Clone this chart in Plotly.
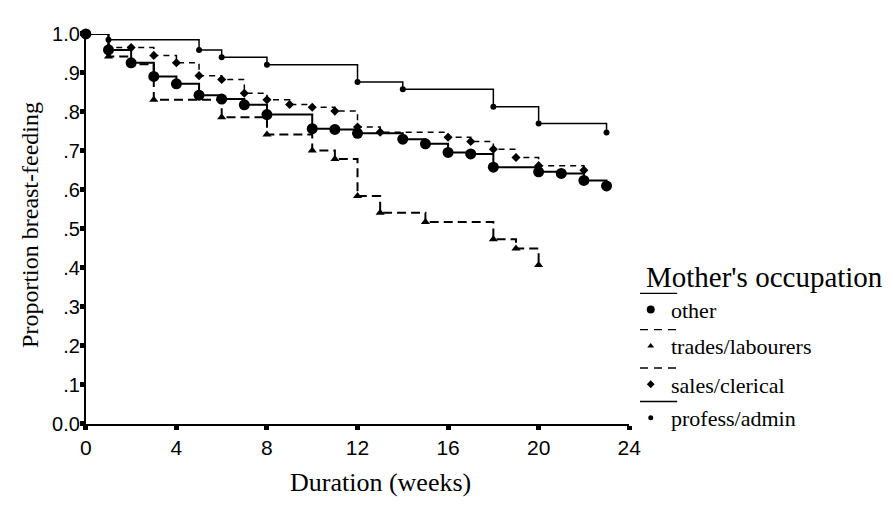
import plotly.graph_objects as go

# Kaplan-Meier style survival estimates: proportion still breast-feeding by week
weeks_other = [0, 1, 2, 3, 4, 5, 6, 7, 8, 10, 11, 12, 14, 15, 16, 17, 18, 20, 21, 22, 23]
prop_other = [1.0, 0.959, 0.926, 0.891, 0.872, 0.843, 0.833, 0.818, 0.793, 0.757, 0.755,
              0.745, 0.730, 0.718, 0.696, 0.692, 0.658, 0.646, 0.642, 0.624, 0.610]

weeks_trades = [0, 1, 2, 3, 6, 8, 10, 11, 12, 13, 15, 18, 19, 20]
prop_trades = [1.0, 0.942, 0.922, 0.831, 0.786, 0.742, 0.701, 0.679, 0.584, 0.541,
               0.517, 0.473, 0.449, 0.407]

weeks_sales = [0, 1, 2, 3, 4, 5, 6, 7, 8, 9, 10, 11, 12, 13, 16, 17, 18, 19, 20, 22]
prop_sales = [1.0, 0.965, 0.965, 0.945, 0.926, 0.893, 0.883, 0.848, 0.831, 0.819, 0.812,
              0.802, 0.761, 0.748, 0.735, 0.724, 0.704, 0.683, 0.662, 0.650]

weeks_profess = [0, 1, 5, 6, 8, 12, 14, 18, 20, 23]
prop_profess = [1.0, 0.985, 0.959, 0.940, 0.921, 0.877, 0.858, 0.813, 0.770, 0.747]

group_names = ["other", "trades/labourers", "sales/clerical", "profess/admin"]

x_ticks = [0, 4, 8, 12, 16, 20, 24]
y_ticks = [0.0, 0.1, 0.2, 0.3, 0.4, 0.5, 0.6, 0.7, 0.8, 0.9, 1.0]
y_tick_text = ["0.0", ".1", ".2", ".3", ".4", ".5", ".6", ".7", ".8", ".9", "1.0"]

W, H = 893, 513
SERIF = "Liberation Serif, Times New Roman, serif"
SANS = "Liberation Sans, Arial, sans-serif"

# per-group drawing style: (line width, dash, marker symbol, marker size, legend marker size)
styles = {
    "other": (2.0, "solid", "circle", 11, 8),
    "trades/labourers": (2.0, "9px,5px", "triangle-up", 8, 6),
    "sales/clerical": (1.5, "6px,5px", "diamond", 7, 6),
    "profess/admin": (1.5, "solid", "circle", 6, 5),
}

series = {
    "other": (weeks_other, prop_other),
    "trades/labourers": (weeks_trades, prop_trades),
    "sales/clerical": (weeks_sales, prop_sales),
    "profess/admin": (weeks_profess, prop_profess),
}

fig = go.Figure()

for name in ["profess/admin", "sales/clerical", "trades/labourers", "other"]:
    lw, dash, sym, msize, _ = styles[name]
    xs, ys = series[name]
    fig.add_trace(go.Scatter(
        x=xs, y=ys, mode="lines+markers", name=name,
        line=dict(shape="hv", color="black", width=lw, dash=dash),
        marker=dict(symbol=sym, size=msize, color="black"),
        cliponaxis=False, showlegend=False, xaxis="x", yaxis="y",
    ))

# hand-built legend on a full-figure pixel axis: line sample above, marker + label below
legend_rows_y = [295, 333, 373, 408]
for name, ly in zip(group_names, legend_rows_y):
    lw, dash, sym, _, lsize = styles[name]
    fig.add_trace(go.Scatter(
        x=[647, 685], y=[ly, ly], mode="lines",
        line=dict(color="black", width=1.3, dash=("8px,6px" if dash != "solid" else "solid")),
        showlegend=False, xaxis="x2", yaxis="y2", hoverinfo="skip",
    ))
    fig.add_trace(go.Scatter(
        x=[658], y=[ly + 17], mode="markers",
        marker=dict(symbol=sym, size=lsize, color="black"),
        showlegend=False, xaxis="x2", yaxis="y2", hoverinfo="skip",
    ))
    fig.add_annotation(
        x=677 / W, y=1 - (ly + 18) / H, xref="paper", yref="paper",
        text=name, showarrow=False, xanchor="left", yanchor="middle",
        font=dict(family=SERIF, size=22, color="black"),
    )

fig.add_annotation(
    x=651 / W, y=1 - 278 / H, xref="paper", yref="paper",
    text="Mother's occupation", showarrow=False, xanchor="left", yanchor="middle",
    font=dict(family=SERIF, size=29, color="black"),
)

# axis titles
fig.add_annotation(
    x=382 / W, y=1 - 493 / H, xref="paper", yref="paper",
    text="Duration (weeks)", showarrow=False, xanchor="center", yanchor="middle",
    font=dict(family=SERIF, size=26, color="black"),
)
fig.add_annotation(
    x=25 / W, y=1 - 223 / H, xref="paper", yref="paper",
    text="Proportion breast-feeding", showarrow=False, textangle=-90,
    xanchor="center", yanchor="middle",
    font=dict(family=SERIF, size=24, color="black"),
)

fig.update_layout(
    width=W, height=H,
    margin=dict(l=0, r=0, t=0, b=0),
    paper_bgcolor="white", plot_bgcolor="rgba(0,0,0,0)",
    showlegend=False,
    xaxis=dict(
        domain=[81.5 / W, 636 / W], range=[0, 24], tickvals=x_ticks,
        showline=True, linewidth=2, linecolor="black", showgrid=False, zeroline=False,
        ticks="outside", ticklen=4, tickwidth=5, tickcolor="black",
        tickfont=dict(family=SANS, size=21, color="black"), anchor="y",
    ),
    yaxis=dict(
        domain=[(H - 431) / H, (H - 24) / H], range=[0, 1.0],
        tickvals=y_ticks, ticktext=y_tick_text,
        showline=True, linewidth=2, linecolor="black", showgrid=False, zeroline=False,
        ticks="outside", ticklen=4, tickwidth=5, tickcolor="black",
        tickfont=dict(family=SANS, size=20, color="black"), anchor="x",
        ticklabelstandoff=-4,
    ),
    xaxis2=dict(domain=[0, 1], range=[0, W], visible=False, anchor="y2", fixedrange=True),
    yaxis2=dict(domain=[0, 1], range=[H, 0], visible=False, anchor="x2", fixedrange=True),
)

fig.write_html("out.html")
